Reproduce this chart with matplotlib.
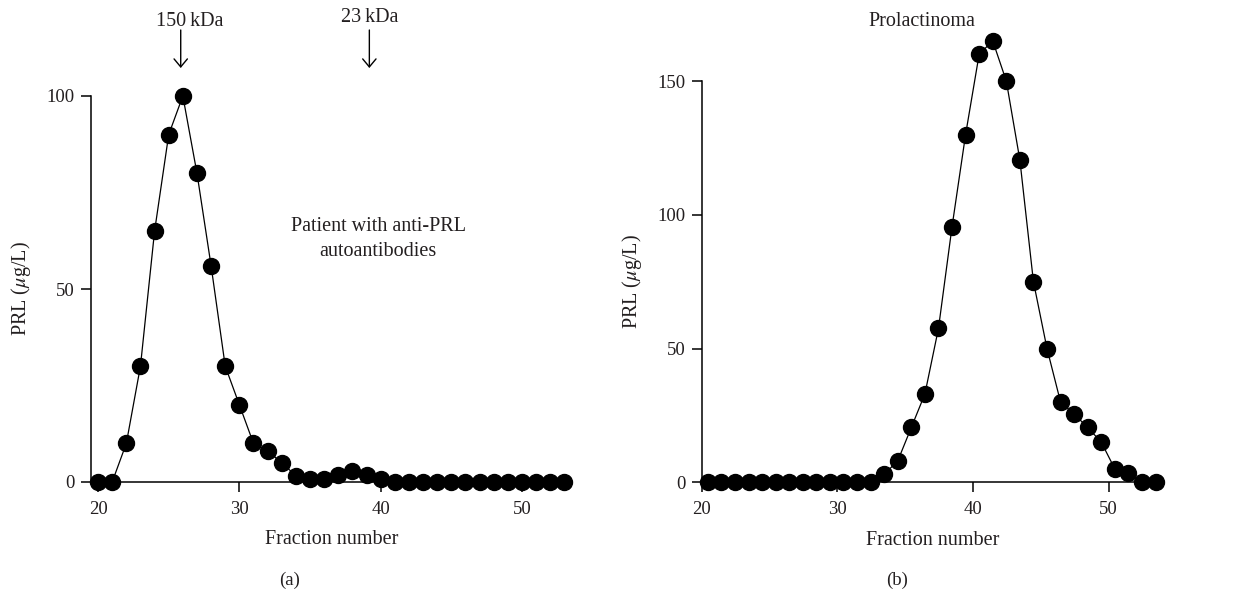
import matplotlib
matplotlib.use("Agg")
import matplotlib.pyplot as plt

# ---------------- data ----------------
frac_a = [20, 21, 22, 23, 24, 25, 26, 27, 28, 29, 30, 31, 32, 33, 34, 35, 36,
          37, 38, 39, 40, 41, 42, 43, 44, 45, 46, 47, 48, 49, 50, 51, 52, 53]
prl_a = [0, 0, 10, 30, 65, 90, 100, 80, 56, 30, 20, 10, 8, 5, 1.6, 0.7, 0.7,
         1.8, 2.9, 1.8, 0.8, 0, 0, 0, 0, 0, 0, 0, 0, 0, 0, 0, 0, 0]

frac_b = [20.45, 21.45, 22.45, 23.45, 24.45, 25.45, 26.45, 27.45, 28.45, 29.45,
          30.45, 31.45, 32.45, 33.45, 34.45, 35.45, 36.45, 37.45, 38.45, 39.45,
          40.45, 41.45, 42.45, 43.45, 44.45, 45.45, 46.45, 47.45, 48.45, 49.45,
          50.45, 51.45, 52.45, 53.45]
prl_b = [0, 0, 0, 0, 0, 0, 0, 0, 0, 0, 0, 0, 0, 3, 8, 20.5, 33, 57.5, 95.5, 130,
         160, 165, 150, 120.5, 75, 50, 30, 25.5, 20.5, 15, 5, 3.3, 0, 0]

xticks = [20, 30, 40, 50]
yticks_a = [0, 50, 100]
yticks_b = [0, 50, 100, 150]

W, H = 1247, 592
TXT = "#231f20"
plt.rcParams['font.family'] = ['Liberation Serif', 'DejaVu Serif']
plt.rcParams['mathtext.fontset'] = 'stix'

fig = plt.figure(figsize=(W / 100, H / 100), dpi=100)


def rect(x0, y0, x1, y1):
    # pixel box (top-left origin) to figure fraction
    return [x0 / W, 1 - y1 / H, (x1 - x0) / W, (y1 - y0) / H]


def style(ax, xlim, ylim, yticks, xb, yb):
    ax.set_xlim(*xlim)
    ax.set_ylim(*ylim)
    ax.set_xticks(xticks)
    ax.set_yticks(yticks)
    for s in ['top', 'right']:
        ax.spines[s].set_visible(False)
    for s in ['left', 'bottom']:
        ax.spines[s].set_linewidth(1.1)
        ax.spines[s].set_color('black')
    ax.spines['left'].set_bounds(*yb)
    ax.spines['bottom'].set_bounds(*xb)
    ax.tick_params(direction='out', length=7.5, width=1.1, labelsize=13.5,
                   colors='black', labelcolor=TXT)
    ax.tick_params(axis='x', pad=6)
    ax.tick_params(axis='y', pad=4)
    ax.patch.set_alpha(0)
    ax.set_xlabel("Fraction number", fontsize=14.5, color=TXT, labelpad=9)
    ax.set_ylabel(r"PRL ($\mu$g/L)", fontsize=14.5, color=TXT, labelpad=10)


# ---------------- panel (a) ----------------
ax1 = fig.add_axes(rect(91, 96, 571.4, 482))
ax1.plot(frac_a, prl_a, '-', color='black', lw=0.9, marker='o', ms=11.5,
         mfc='black', mec='black', clip_on=False)
style(ax1, (19.5, 53.5), (0, 100), yticks_a, (19.5, 53.3), (0, 100))

# ---------------- panel (b) ----------------
ax2 = fig.add_axes(rect(701.7, 81, 1163, 482.3))
ax2.plot(frac_b, prl_b, '-', color='black', lw=0.9, marker='o', ms=11.5,
         mfc='black', mec='black', clip_on=False)
style(ax2, (20, 54), (0, 150), yticks_b, (20, 53.6), (0, 150))

# ---------------- annotations ----------------
def fx(px):
    return px / W


def fy(py):
    return 1 - py / H


fig.text(fx(190), fy(21), "150\u2009kDa", ha='center', va='center',
         fontsize=14.5, color=TXT)
fig.text(fx(370), fy(17), "23\u2009kDa", ha='center', va='center',
         fontsize=14.5, color=TXT)

for frac in [25.85, 39.2]:
    xpix = ax1.transData.transform((frac, 0))[0]
    xf = fig.transFigure.inverted().transform((xpix, 0))[0]
    fig.add_artist(matplotlib.patches.FancyArrowPatch(
        (xf, fy(30)), (xf, fy(68)), transform=fig.transFigure,
        arrowstyle='->,head_length=0.48,head_width=0.4', lw=1.0,
        color='black', mutation_scale=12, shrinkA=0, shrinkB=0))

fig.text(fx(378), fy(239), "Patient with anti-PRL\nautoantibodies",
         ha='center', va='center', fontsize=14.5, color=TXT,
         linespacing=1.45)
fig.text(fx(922), fy(21), "Prolactinoma", ha='center', va='center',
         fontsize=14.5, color=TXT)

fig.text(fx(290), fy(580), "(a)", ha='center', va='center', fontsize=13.5,
         color=TXT)
fig.text(fx(897), fy(580), "(b)", ha='center', va='center', fontsize=13.5,
         color=TXT)

fig.savefig("out.png", dpi=100, facecolor='white')
